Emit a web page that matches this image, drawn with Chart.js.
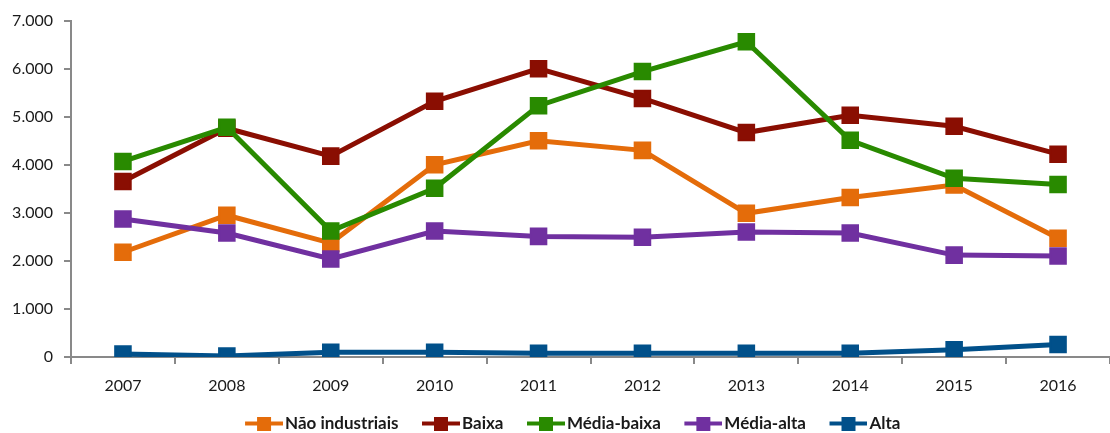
<!DOCTYPE html>
<html lang="pt">
<head>
<meta charset="utf-8">
<title>Evolução por intensidade tecnológica</title>
<script src="https://cdn.jsdelivr.net/npm/chart.js@4/dist/chart.umd.min.js"></script>
<style>
  html, body { margin: 0; padding: 0; background: #fff; overflow: hidden; }
  #wrap { width: 1123px; height: 433px; }
</style>
</head>
<body>
<div id="wrap"><canvas id="grafico" width="1123" height="433"></canvas></div>
<script>
// Anos e séries
const anos = ['2007', '2008', '2009', '2010', '2011', '2012', '2013', '2014', '2015', '2016'];
const naoIndustriais = [2180, 2950, 2370, 4000, 4500, 4300, 2990, 3320, 3580, 2470];
const baixa          = [3650, 4760, 4180, 5320, 6000, 5380, 4670, 5030, 4800, 4220];
const mediaBaixa     = [4070, 4780, 2620, 3510, 5230, 5940, 6560, 4510, 3720, 3590];
const mediaAlta      = [2870, 2580, 2040, 2620, 2510, 2490, 2600, 2580, 2120, 2100];
const alta           = [60, 20, 100, 100, 80, 80, 80, 80, 150, 260];
const ticksY         = [0, 1000, 2000, 3000, 4000, 5000, 6000, 7000];

const series = [
  { nome: 'Não industriais', dados: naoIndustriais, cor: '#E46C0A' },
  { nome: 'Baixa',           dados: baixa,          cor: '#8A0E02' },
  { nome: 'Média-baixa',     dados: mediaBaixa,     cor: '#298A00' },
  { nome: 'Média-alta',      dados: mediaAlta,      cor: '#7030A0' },
  { nome: 'Alta',            dados: alta,           cor: '#01508A' }
];

// Marcador da legenda: linha com quadrado ao centro.
// A margem transparente à esquerda afasta o marcador do item anterior.
const margemMarcador = 29;
function marcadorLegenda(cor) {
  const c = document.createElement('canvas');
  c.width = margemMarcador + 38;
  c.height = 14;
  const g = c.getContext('2d');
  g.fillStyle = cor;
  g.fillRect(margemMarcador, 5, 38, 4);
  g.fillRect(margemMarcador + 12, 0, 14, 14);
  return c;
}

const fmt = v => String(v).replace(/\B(?=(\d{3})+(?!\d))/g, '.');
const corEixo = '#898989';
const corTexto = '#1a1a1a';

const datasets = series.map((s, i) => ({
  label: s.nome,
  data: s.dados,
  borderColor: s.cor,
  backgroundColor: s.cor,
  borderWidth: 5,
  pointStyle: 'rect',
  pointRadius: 11,
  pointBorderWidth: 2,
  pointHoverRadius: 11,
  tension: 0,
  order: series.length - i
}));

new Chart(document.getElementById('grafico'), {
  type: 'line',
  data: { labels: anos, datasets },
  options: {
    responsive: false,
    animation: false,
    layout: { padding: { top: 20, right: 0, bottom: 0, left: 0 } },
    plugins: {
      tooltip: { enabled: false },
      legend: {
        position: 'bottom',
        maxHeight: 19,
        labels: {
          usePointStyle: true,
          pointStyleWidth: 54,
          padding: 1,
          color: corTexto,
          font: { family: 'Lato', size: 17, weight: 'bold' },
          generateLabels: chart => series.map((s, i) => ({
            text: s.nome,
            datasetIndex: i,
            pointStyle: marcadorLegenda(s.cor),
            fillStyle: s.cor,
            strokeStyle: s.cor,
            lineWidth: 0,
            fontColor: corTexto,
            hidden: false
          }))
        }
      }
    },
    scales: {
      x: {
        offset: true,
        afterFit: scale => { scale.height = 57; },
        grid: {
          offset: true,
          drawOnChartArea: false,
          drawTicks: true,
          tickLength: 7,
          color: corEixo,
          lineWidth: 2
        },
        border: { color: corEixo, width: 2 },
        ticks: {
          color: corTexto,
          padding: 12,
          maxRotation: 0,
          font: { family: 'Lato', size: 16 }
        }
      },
      y: {
        min: 0,
        max: 7000,
        afterBuildTicks: scale => { scale.ticks = ticksY.map(v => ({ value: v })); },
        afterFit: scale => { scale.width = 71; },
        grid: {
          drawOnChartArea: false,
          tickLength: 7,
          color: corEixo,
          lineWidth: 2
        },
        border: { color: corEixo, width: 2 },
        ticks: {
          color: corTexto,
          padding: 11,
          callback: v => fmt(v),
          font: { family: 'Lato', size: 16 }
        }
      }
    }
  }
});
</script>
</body>
</html>
